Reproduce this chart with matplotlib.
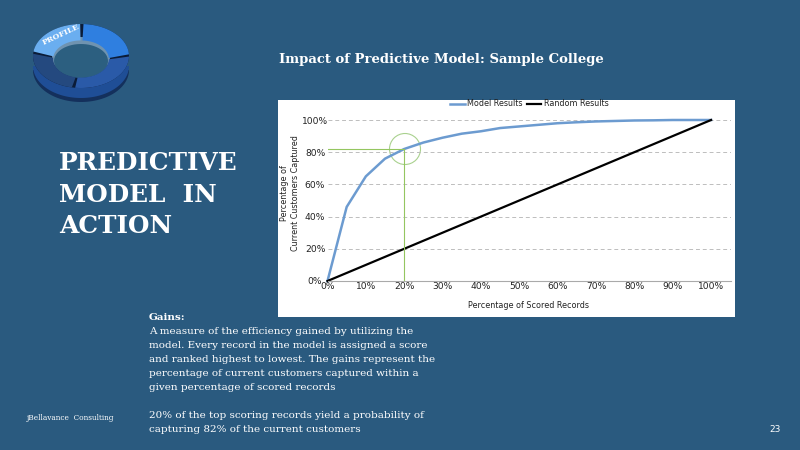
import numpy as np
import matplotlib
matplotlib.use('Agg')
import matplotlib.pyplot as plt
from matplotlib.patches import Polygon, Circle, Rectangle

# data
pct_scored = [0, 5, 10, 15, 20, 25, 30, 35, 40, 45, 50, 55, 60, 65, 70, 75, 80, 85, 90, 95, 100]
model_results = [0, 46, 65, 76, 82, 86, 89, 91.5, 93, 95, 96, 97, 98, 98.6, 99.1, 99.4, 99.7, 99.8, 100, 100, 100]
random_pct = [0, 100]
random_results = [0, 100]
x_ticks = [0, 10, 20, 30, 40, 50, 60, 70, 80, 90, 100]
y_ticks = [0, 20, 40, 60, 80, 100]
cut_x = 20
cut_y = 82

body_lines = ["A measure of the efficiency gained by utilizing the",
              "model. Every record in the model is assigned a score",
              "and ranked highest to lowest. The gains represent the",
              "percentage of current customers captured within a",
              "given percentage of scored records",
              "",
              "20% of the top scoring records yield a probability of",
              "capturing 82% of the current customers"]
heading_lines = ["PREDICTIVE", "MODEL  IN", "ACTION"]

BG = '#2A5A7F'
W, H = 800, 450
fig = plt.figure(figsize=(8, 4.5), dpi=100, facecolor=BG)

# overlay in pixel coords, y pointing down like the screenshot
bg = fig.add_axes([0, 0, 1, 1], zorder=0)
bg.set_xlim(0, W)
bg.set_ylim(H, 0)
bg.axis('off')
bg.add_patch(Rectangle((278, 100), 457, 217, fc='white', ec='none'))


def ring_piece(cx, cy, a0, a1, rx=48, ry=32, hole=0.58, **kw):
    t = np.radians(np.linspace(a0, a1, 60))
    outer = np.c_[cx + rx*np.cos(t), cy - ry*np.sin(t)]
    inner = np.c_[cx + hole*rx*np.cos(t[::-1]), cy + 3 - hole*ry*np.sin(t[::-1])]
    bg.add_patch(Polygon(np.r_[outer, inner], closed=True, **kw))


# logo: side wall first, then the four top pieces, then the glassy hole
ring_piece(81, 70, 180, 360, hole=0.0, fc='#14305C', ec='none')
ring_piece(81, 66, 180, 360, hole=0.0, fc='#1F4E96', ec='none')
ring_piece(81, 56, 0, 360, hole=0.0, fc='#0B1C38', ec='none')
ring_piece(81, 57, 0, 360, rx=29, ry=20, hole=0.0, fc='#6F93B0', ec='none')
ring_piece(81, 61, 0, 360, rx=27, ry=17, hole=0.0, fc='#2C5F80', ec='none')
ring_piece(81, 56, 91, 172, fc='#6AAEF0', ec='none')
ring_piece(81, 56, 3, 87, fc='#2F7FE0', ec='none')
ring_piece(81, 56, -97, -1, fc='#2A5AA8', ec='none')
ring_piece(81, 56, 176, 259, fc='#24497F', ec='none')
bg.text(61, 35, 'PROFILE', color='white', fontsize=5.6, family='DejaVu Serif', weight='bold',
        rotation=25, ha='center', va='center')

# slide text
bg.text(279, 59, 'Impact of Predictive Model: Sample College', color='white', fontsize=9.5,
        family='DejaVu Serif', weight='bold', va='center')
for txt, y in zip(heading_lines, [163, 195, 226]):
    bg.text(59, y, txt, color='white', fontsize=17.8, family='DejaVu Serif', weight='bold', va='center')
bg.text(149, 317, 'Gains:', color='white', fontsize=7.5, family='DejaVu Serif', weight='bold', va='center')
for i, txt in enumerate(body_lines):
    bg.text(149, 332 + i*14, txt, color='white', fontsize=7.5, family='DejaVu Serif', va='center')
bg.text(27, 418, 'jBellavance  Consulting', color='white', fontsize=5.3, family='DejaVu Serif', va='center')
bg.text(775, 429, '23', color='white', fontsize=6.5, ha='center', va='center')

# chart, axes placed so 0-100% lands on the same pixels as the reference
ax = fig.add_axes([327.5/W, 1 - 281/H, (730.6 - 327.5)/W, 161/H], zorder=1)
ax.patch.set_alpha(0)
ax.plot(pct_scored, model_results, color='#6C9BD0', lw=1.8, label='Model Results', solid_joinstyle='round')
ax.plot(random_pct, random_results, color='black', lw=1.6, label='Random Results')
ax.plot([0, cut_x], [cut_y, cut_y], color='#94C660', lw=0.8)
ax.plot([cut_x, cut_x], [0, cut_y], color='#94C660', lw=0.8)
ax.set_xlim(0, 105.1)
ax.set_ylim(0, 100)
ax.set_xticks(x_ticks)
ax.set_xticklabels([f'{v}%' for v in x_ticks])
ax.set_yticks(y_ticks)
ax.set_yticklabels([f'{v}%' for v in y_ticks], ha='center')
ax.tick_params(length=0, labelsize=6.6, colors='#222222')
ax.tick_params(axis='x', pad=1)
ax.tick_params(axis='y', pad=9)
ax.yaxis.grid(True, color='#BDBDBD', ls=(0, (4, 3)), lw=0.7)
ax.set_axisbelow(True)
for side in ['top', 'right', 'left']:
    ax.spines[side].set_visible(False)
ax.spines['bottom'].set_color('#AAAAAA')
ax.spines['bottom'].set_linewidth(0.8)
for line in ax.get_lines()[:2]:
    line.set_clip_on(False)
bg.add_patch(Circle((405, 149), 15.5, fc='none', ec='#A9D18E', lw=0.8, zorder=5))

leg = fig.legend(loc='center', bbox_to_anchor=(529.5/W, 1 - 104/H), ncol=2, frameon=False, fontsize=5.8,
                 handlelength=1.75, columnspacing=0.6, handletextpad=0.3, borderpad=0, labelcolor='#222222')
fig.text(528.5/W, 1 - 306/H, 'Percentage of Scored Records', fontsize=5.75, color='#222222', ha='center', va='center')
fig.text(290/W, 1 - 193.5/H, 'Percentage of\nCurrent Customers Captured', fontsize=5.8, color='#222222',
         rotation=90, ha='center', va='center', linespacing=1.2)

fig.savefig('out.png', dpi=100, facecolor=BG)
